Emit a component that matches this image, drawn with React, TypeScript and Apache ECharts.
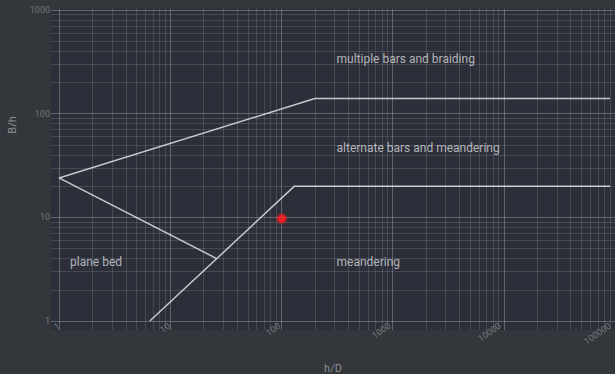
import React, { useEffect, useRef } from "react";
import * as echarts from "echarts";

// Regime boundaries in (h/D, B/h)
const upperBoundary: [number, number][] = [[1, 24], [210, 140], [100000, 140]];
const planeBedBoundary: [number, number][] = [[1, 24], [27, 4]];
const lowerBoundary: [number, number][] = [[6.67, 1], [137, 20], [100000, 20]];

// Observed channel
const observed: [number, number][] = [[105, 9.7]];

// Regime names and where they sit
const regionNames = ["multiple bars and braiding", "alternate bars and meandering", "meandering", "plane bed"];
const regionAnchors: [number, number][] = [[330, 336], [330, 46.6], [330, 3.7], [1.26, 3.7]];

// Decades of the two log axes
const xDecades = [1, 10, 100, 1000, 10000, 100000];
const yDecades = [1, 10, 100, 1000];
const minorSteps = [2, 3, 4, 5, 6, 7, 8, 9];

const minorsOf = (decades: number[]) =>
  decades.slice(0, -1).flatMap((d) => minorSteps.map((m) => m * d));

const MAJOR = "rgba(255,255,255,0.26)";
const MINOR = "rgba(255,255,255,0.13)";
const PLOT_BG = "#2c2f39";

const isPow10 = (v: number) => {
  const l = Math.log10(v);
  return Math.abs(l - Math.round(l)) < 1e-6;
};

const hidden = { show: false };

export default function App() {
  const ref = useRef<HTMLDivElement>(null);

  useEffect(() => {
    if (!ref.current) return;
    const chart = echarts.init(ref.current, null, { renderer: "svg" });

    const line = (color: string) => ({ color, width: 1, type: "solid" });
    const verticalLines = [
      ...minorsOf(xDecades).map((v) => ({ xAxis: v, lineStyle: line(MINOR) })),
      ...xDecades.map((v) => ({ xAxis: v, lineStyle: line(MAJOR) })),
    ];
    const horizontalLines = [
      ...minorsOf(yDecades).map((v) => ({ yAxis: v, lineStyle: line(MINOR) })),
      ...yDecades.map((v) => ({ yAxis: v, lineStyle: line(MAJOR) })),
    ];

    const gridSeries = (axisIndex: number, lines: any[]) => ({
      type: "line",
      xAxisIndex: axisIndex,
      yAxisIndex: axisIndex,
      data: [[1, 1]],
      showSymbol: false,
      symbol: "none",
      silent: true,
      z: 1,
      lineStyle: { opacity: 0 },
      markLine: {
        silent: true,
        symbol: ["none", "none"],
        label: { show: false },
        animation: false,
        data: lines,
      },
    });

    const boundary = (data: [number, number][]) => ({
      type: "line",
      data,
      showSymbol: false,
      symbol: "none",
      silent: true,
      z: 3,
      lineStyle: { color: "#c6c7c9", width: 1.5 },
    });

    const tickLabel = (v: number) => (isPow10(v) ? String(Math.round(v)) : "");

    chart.setOption({
      animation: false,
      backgroundColor: "#33363a",
      textStyle: { fontFamily: "Roboto" },
      grid: [
        // data area
        { left: 59, right: 0, top: 10, bottom: 53, show: false },
        // vertical rules, running down past the lowest decade
        { left: 59, right: 0, top: 9, bottom: 44, show: false },
        // horizontal rules, running left past the first decade
        { left: 51, right: 0, top: 10, bottom: 53, show: false },
      ],
      xAxis: [
        {
          type: "log",
          logBase: 10,
          min: 1,
          max: 100000,
          gridIndex: 0,
          axisLine: hidden,
          axisTick: hidden,
          splitLine: hidden,
          axisLabel: {
            color: "#74777c",
            fontSize: 9,
            rotate: 35,
            margin: 4,
            showMinLabel: true,
            showMaxLabel: true,
            hideOverlap: false,
            formatter: tickLabel,
          },
        },
        { type: "log", logBase: 10, min: 1, max: 100000, gridIndex: 1, show: false },
        { type: "value", min: 0, max: 1, gridIndex: 2, show: false },
      ],
      yAxis: [
        {
          type: "log",
          logBase: 10,
          min: 1,
          max: 1000,
          gridIndex: 0,
          axisLine: hidden,
          axisTick: hidden,
          splitLine: hidden,
          axisLabel: {
            color: "#74777c",
            fontSize: 9,
            margin: 9,
            showMinLabel: true,
            showMaxLabel: true,
            formatter: tickLabel,
          },
        },
        { type: "value", min: 0, max: 2, gridIndex: 1, show: false },
        { type: "log", logBase: 10, min: 1, max: 1000, gridIndex: 2, show: false },
      ],
      graphic: [
        {
          type: "rect",
          z: -10,
          silent: true,
          shape: { x: 51, y: 9, width: 564, height: 321 },
          style: { fill: PLOT_BG },
        },
        {
          type: "text",
          x: 12,
          y: 125,
          rotation: Math.PI / 2,
          style: {
            text: "B/h",
            fill: "#8b8e93",
            fontSize: 11,
            fontFamily: "Roboto",
            align: "center",
            verticalAlign: "middle",
          },
        },
        {
          type: "text",
          x: 333,
          y: 368,
          style: {
            text: "h/D",
            fill: "#8b8e93",
            fontSize: 11,
            fontFamily: "Roboto",
            align: "center",
            verticalAlign: "middle",
          },
        },
      ],
      series: [
        gridSeries(1, verticalLines),
        gridSeries(2, horizontalLines),
        boundary(upperBoundary),
        boundary(planeBedBoundary),
        boundary(lowerBoundary),
        {
          type: "scatter",
          data: regionAnchors.map((p, i) => ({ value: p, name: regionNames[i] })),
          symbolSize: 0,
          silent: true,
          z: 4,
          label: {
            show: true,
            position: "right",
            distance: 0,
            formatter: (p: any) => p.name,
            color: "#d6d7d9",
            fontSize: 12,
            fontFamily: "Roboto",
          },
        },
        {
          type: "scatter",
          data: observed,
          symbol: "circle",
          symbolSize: 9,
          z: 5,
          itemStyle: { color: "#ff1a1a", shadowColor: "rgba(255,40,40,0.6)", shadowBlur: 4 },
        },
      ],
    });

    return () => chart.dispose();
  }, []);

  return <div ref={ref} style={{ width: 615, height: 374, position: "absolute", left: 0, top: 0 }} />;
}
